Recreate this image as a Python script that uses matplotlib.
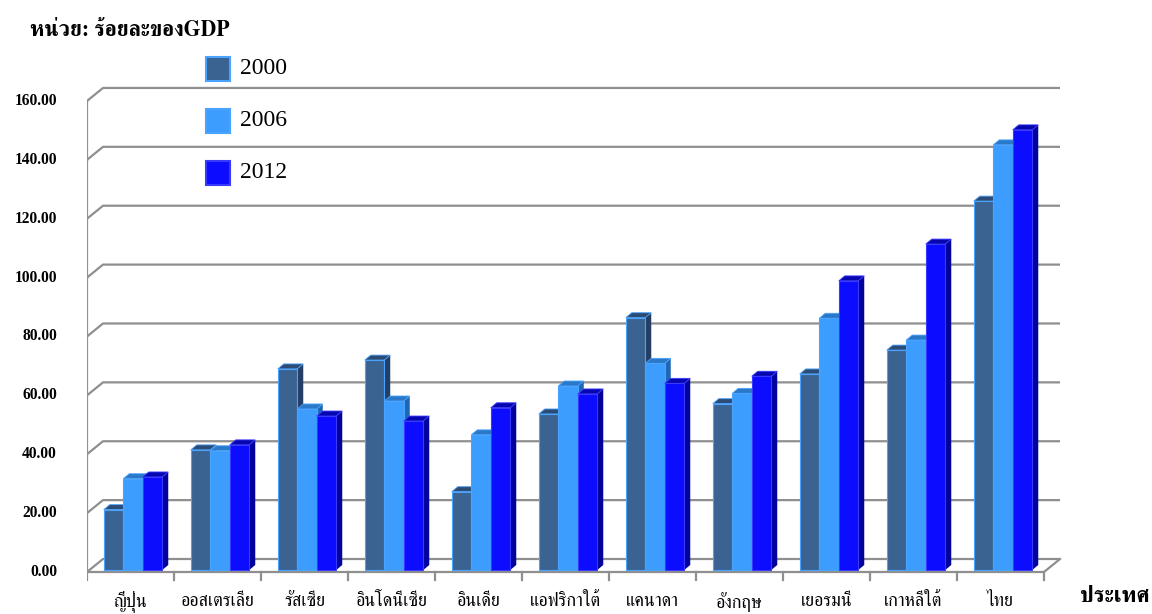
import matplotlib
matplotlib.use("Agg")
import matplotlib.pyplot as plt
from matplotlib.patches import Polygon, Rectangle

# data (percent of GDP)
countries = ["ญี่ปุ่น", "ออสเตรเลีย", "รัสเซีย", "อินโดนีเซีย", "อินเดีย", "แอฟริกาใต้",
             "แคนาดา", "อังกฤษ", "เยอรมนี", "เกาหลีใต้", "ไทย"]
years = ["2000", "2006", "2012"]
v2000 = [20.5, 40.8, 68.3, 71.3, 26.6, 53.0, 85.7, 56.5, 66.6, 74.7, 125.3]
v2006 = [31.0, 40.5, 54.7, 57.4, 45.9, 62.5, 70.2, 60.0, 85.5, 78.1, 144.4]
v2012 = [31.6, 42.5, 52.3, 50.6, 55.1, 59.8, 63.4, 65.8, 98.2, 110.7, 149.5]
series = [v2000, v2006, v2012]
yticks = [0, 20, 40, 60, 80, 100, 120, 140, 160]

# colours: front, top, side, edge
front = ["#3b6392", "#3c9dff", "#0c0cff"]
top = ["#2c4c75", "#2a78c8", "#0707b0"]
side = ["#243f63", "#1e66b4", "#02029c"]
edge = ["#4aa3ff", "#4aa3ff", "#3a3aff"]
grid_c = "#8f8f8f"

W, H = 1152, 614
fig = plt.figure(figsize=(W / 100, H / 100), dpi=100)

# pixel scale of the front plane
px_per_cat = 87.0
px_per_unit = 2.944
x_left_px, y0_px = 87, 572
ylo, yhi = -5, 165
xlo = -0.5
xhi = xlo + (1062 - x_left_px) / px_per_cat
ax = fig.add_axes([x_left_px / W, (H - (y0_px - ylo * px_per_unit)) / H,
                   (1062 - x_left_px) / W, (yhi - ylo) * px_per_unit / H])
ax.set_xlim(xlo, xhi)
ax.set_ylim(ylo, yhi)
ax.axis("off")

dx = lambda p: p / px_per_cat
dy = lambda p: p / px_per_unit

n = len(countries)
xr = n - 0.5
wall_dx, wall_dy = dx(16), dy(13)

# back wall gridlines + floor
for v in yticks:
    ax.plot([xlo, xlo + wall_dx, xr + wall_dx], [v, v + wall_dy, v + wall_dy],
            color=grid_c, lw=1.6, zorder=1, solid_capstyle="butt")
    ax.plot([xlo - dx(8), xlo], [v, v], color=grid_c, lw=1.6, zorder=1)
    ax.text(xlo - dx(30), v, f"{v:.2f}", ha="right", va="center",
            fontsize=11.2, fontweight="bold", family="Liberation Serif")
ax.plot([xlo, xlo], [0, yticks[-1]], color=grid_c, lw=1.6, zorder=1)
ax.plot([xlo, xr, xr + wall_dx], [0, 0, wall_dy], color=grid_c, lw=1.6, zorder=1)
for k in range(n + 1):
    ax.plot([xlo + k, xlo + k], [0, -dy(8)], color=grid_c, lw=1.6, zorder=1)

# 3D-style bars
bw = dx(19.5)
bdx, bdy = dx(6), dy(5)
off_x, off_y = dx(2.5), dy(2)
z = 3
for i in range(n):
    for s, vals in enumerate(series):
        x0 = i - 1.5 * bw + s * bw + off_x
        y1 = vals[i] + off_y
        ax.add_patch(Polygon([(x0 + bw, off_y), (x0 + bw + bdx, off_y + bdy),
                              (x0 + bw + bdx, y1 + bdy), (x0 + bw, y1)],
                             closed=True, facecolor=side[s], edgecolor="none", zorder=z))
        ax.add_patch(Polygon([(x0, y1), (x0 + bw, y1), (x0 + bw + bdx, y1 + bdy),
                              (x0 + bdx, y1 + bdy)],
                             closed=True, facecolor=top[s], edgecolor=edge[s], lw=0.6, zorder=z))
        ax.add_patch(Rectangle((x0, off_y), bw, vals[i], facecolor=front[s],
                               edgecolor=edge[s], lw=0.8, zorder=z + 0.5))
        z += 1

# category labels
for i, c in enumerate(countries):
    ax.text(i, -dy(30), c, ha="center", va="center", fontsize=13,
            family=["FreeSerif", "DejaVu Sans"], clip_on=False)
ax.text(xlo + (1115 - x_left_px) / px_per_cat, -dy(25), "ประเทศ", ha="center", va="center",
        fontsize=16, fontweight="bold", family=["FreeSerif", "DejaVu Sans"], clip_on=False)

# title
fig.text(30 / W, 1 - 30 / H, "หน่วย: ร้อยละของGDP", ha="left", va="center", fontsize=15.5,
         fontweight="bold", family=["FreeSerif", "DejaVu Sans"])

# legend
leg_y = [69, 121, 173]
for s, yr in enumerate(years):
    fig.patches.append(Rectangle((206 / W, 1 - (leg_y[s] + 12) / H), 24 / W, 24 / H,
                                 transform=fig.transFigure, facecolor=front[s],
                                 edgecolor=edge[s], lw=1.5))
    fig.text(240 / W, 1 - leg_y[s] / H, yr, ha="left", va="center", fontsize=17,
             family="Liberation Serif")

fig.savefig("out.png")
